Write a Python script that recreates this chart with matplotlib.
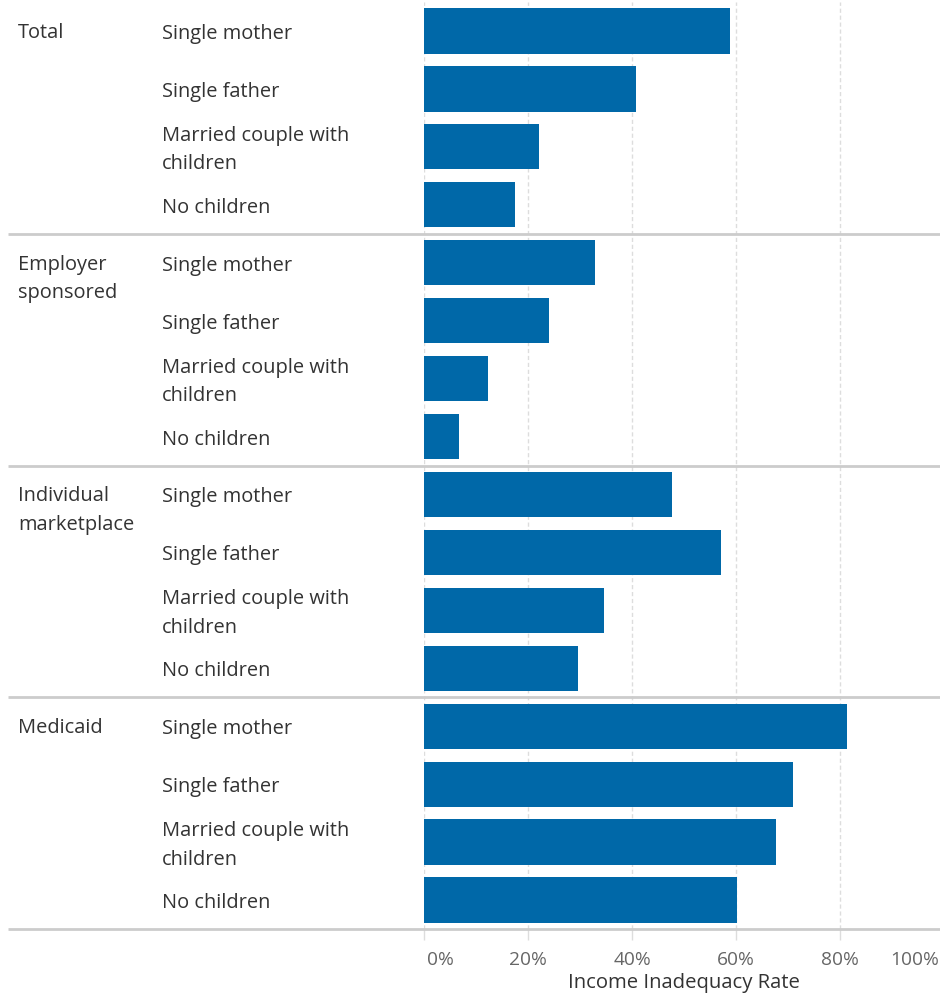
import matplotlib
matplotlib.use("Agg")
import matplotlib.pyplot as plt
import matplotlib.transforms as mtransforms

groups = ["Total", "Employer\nsponsored", "Individual\nmarketplace", "Medicaid"]
households = ["Single mother", "Single father", "Married couple with\nchildren", "No children"]
rates = [
    [58.8, 40.8, 22.1, 17.5],   # Total
    [32.9, 24.0, 12.3, 6.7],    # Employer sponsored
    [47.7, 57.1, 34.6, 29.6],   # Individual marketplace
    [81.3, 71.0, 67.7, 60.2],   # Medicaid
]
xticks = [0, 20, 40, 60, 80, 100]
xtick_labels = ["0%", "20%", "40%", "60%", "80%", "100%"]
xlabel = "Income Inadequacy Rate"

BAR = "#0068a8"
TEXT = "#333333"
TICK = "#666666"
RULE = "#cccccc"
GRID = "#dddddd"
FONT = "Open Sans"
LABEL_SIZE = 14.4

fig = plt.figure(figsize=(9.4, 9.94), dpi=100)
W, H = 940, 994
ax = fig.add_axes([424 / W, (H - 929) / H, 520 / W, 927 / H])

n_items = len(households)
for g, vals in enumerate(rates):
    ys = [g * n_items + i for i in range(n_items)]
    ax.barh(ys, vals, height=0.78, color=BAR, zorder=2)

ax.set_xlim(0, 100)
ax.set_ylim(len(groups) * n_items - 0.5, -0.5)

for spine in ax.spines.values():
    spine.set_visible(False)
ax.set_yticks([])
ax.set_xticks(xticks)
ax.set_xticklabels([])
ax.tick_params(axis="x", length=8, width=1, color=GRID)
ax.grid(axis="x", color=GRID, linestyle=(0, (3, 2)), linewidth=1, zorder=0)

# tick labels: first and last pulled inside the plotting area
lab_tr = mtransforms.blended_transform_factory(ax.transData, fig.transFigure)
for t, lab in zip(xticks, xtick_labels):
    ha = "center"
    dx = 0
    if t == xticks[0]:
        ha, dx = "left", 0.6
    elif t == xticks[-1]:
        ha, dx = "right", -1.0
    ax.text(t + dx, (H - 965) / H, lab, transform=lab_tr, ha=ha, va="baseline",
            fontsize=13.8, color=TICK, family=FONT)

fig.text((424 + 260) / W, (H - 988) / H, xlabel, ha="center", va="baseline",
         fontsize=14.6, color=TEXT, family=FONT)

# group separators spanning the full width
sep_tr = mtransforms.blended_transform_factory(fig.transFigure, ax.transData)
for g in range(1, len(groups) + 1):
    y = g * n_items - 0.5
    ax.plot([8 / W, 1.0], [y, y], transform=sep_tr, color=RULE, lw=2,
            clip_on=False, zorder=3, solid_capstyle="butt")


def label(x_px, y_data, dy_px, s):
    tr = mtransforms.offset_copy(sep_tr, fig=fig, y=-dy_px, units="dots")
    ax.text(x_px / W, y_data, s, transform=tr, ha="left", va="baseline",
            fontsize=LABEL_SIZE, color=TEXT, family=FONT)


# row and group labels
for g, name in enumerate(groups):
    y0 = g * n_items
    for k, line in enumerate(name.split("\n")):
        label(18, y0, 7 + 28.5 * k, line)
    for i, hh in enumerate(households):
        lines = hh.split("\n")
        if len(lines) == 1:
            label(162, y0 + i, 8, lines[0])
        else:
            label(162, y0 + i, -6, lines[0])
            label(162, y0 + i, 22.5, lines[1])

fig.savefig("out.png", dpi=100, facecolor="white")
